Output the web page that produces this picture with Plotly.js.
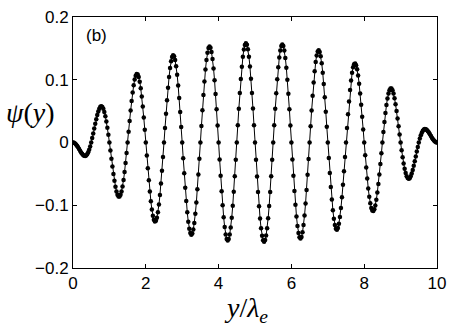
<!DOCTYPE html>
<html>
<head>
<meta charset="utf-8">
<script src="https://cdn.plot.ly/plotly-3.0.1.min.js"></script>
<style>
  html, body { margin: 0; padding: 0; background: #fff; }
  #grafico { width: 450px; height: 329px; }
</style>
</head>
<body>
<div id="grafico"></div>
<script>
// amostras de psi(y), passo uniforme em y/lambda_e (36 pontos por periodo)
const yStart = 0;
const yStep = 1 / 36;
const psi = [
  0, -0.0003, -0.0014, -0.003, -0.0051, -0.0077, -0.0104, -0.0132, -0.0158, -0.018, -0.0199, -0.0211, -0.0214, -0.0206, -0.0187, -0.0157, -0.0115, -0.0062,
  0, 0.007, 0.0144, 0.0222, 0.0299, 0.0371, 0.0437, 0.0494, 0.0539, 0.057, 0.0578, 0.0567, 0.0537, 0.0488, 0.042, 0.0335, 0.0235, 0.0122,
  0, -0.0128, -0.0257, -0.0383, -0.0503, -0.0611, -0.0704, -0.0779, -0.0832, -0.086, -0.086, -0.0834, -0.0779, -0.07, -0.0596, -0.047, -0.0326, -0.0168,
  0, 0.0173, 0.0343, 0.0508, 0.0662, 0.0797, 0.0912, 0.1002, 0.1062, 0.109, 0.1084, 0.1043, 0.097, 0.0866, 0.0733, 0.0575, 0.0397, 0.0204,
  0, -0.0207, -0.041, -0.0603, -0.0782, -0.0938, -0.1068, -0.1168, -0.1232, -0.126, -0.1249, -0.1199, -0.1111, -0.0989, -0.0835, -0.0653, -0.0449, -0.023,
  0, 0.0233, 0.0459, 0.0675, 0.0873, 0.1044, 0.1186, 0.1294, 0.1362, 0.139, 0.1373, 0.1315, 0.1215, 0.1079, 0.0908, 0.0708, 0.0486, 0.0248,
  0, -0.025, -0.0492, -0.0722, -0.0931, -0.1112, -0.1262, -0.1373, -0.1444, -0.147, -0.1451, -0.1388, -0.1282, -0.1136, -0.0956, -0.0745, -0.0511, -0.026,
  0, 0.0262, 0.0515, 0.0755, 0.0973, 0.1162, 0.1316, 0.1432, 0.1504, 0.153, 0.1509, 0.1442, 0.1331, 0.1179, 0.0991, 0.0772, 0.0529, 0.0269,
  0, -0.027, -0.0531, -0.0777, -0.0999, -0.1192, -0.1348, -0.1465, -0.1536, -0.156, -0.1538, -0.1468, -0.1354, -0.1198, -0.1007, -0.0783, -0.0536, -0.0273,
  0, 0.0273, 0.0538, 0.0787, 0.1012, 0.1207, 0.1366, 0.1483, 0.1555, 0.158, 0.1556, 0.1485, 0.1368, 0.121, 0.1016, 0.079, 0.054, 0.0275,
  0, -0.0275, -0.054, -0.079, -0.1016, -0.121, -0.1368, -0.1485, -0.1556, -0.158, -0.1555, -0.1483, -0.1366, -0.1207, -0.1012, -0.0787, -0.0538, -0.0273,
  0, 0.0273, 0.0536, 0.0783, 0.1007, 0.1198, 0.1354, 0.1468, 0.1538, 0.156, 0.1536, 0.1465, 0.1348, 0.1192, 0.0999, 0.0777, 0.0531, 0.027,
  0, -0.0269, -0.0529, -0.0772, -0.0991, -0.1179, -0.1331, -0.1442, -0.1509, -0.153, -0.1504, -0.1432, -0.1316, -0.1162, -0.0973, -0.0755, -0.0515, -0.0262,
  0, 0.026, 0.0511, 0.0745, 0.0956, 0.1136, 0.1282, 0.1388, 0.1451, 0.147, 0.1444, 0.1373, 0.1262, 0.1112, 0.0931, 0.0722, 0.0492, 0.025,
  0, -0.0248, -0.0486, -0.0708, -0.0908, -0.1079, -0.1215, -0.1315, -0.1373, -0.139, -0.1362, -0.1294, -0.1186, -0.1044, -0.0873, -0.0675, -0.0459, -0.0233,
  0, 0.023, 0.0449, 0.0653, 0.0835, 0.0989, 0.1111, 0.1199, 0.1249, 0.126, 0.1232, 0.1168, 0.1068, 0.0938, 0.0782, 0.0603, 0.041, 0.0207,
  0, -0.0204, -0.0397, -0.0575, -0.0733, -0.0866, -0.097, -0.1043, -0.1084, -0.109, -0.1062, -0.1002, -0.0912, -0.0797, -0.0662, -0.0508, -0.0343, -0.0173,
  0, 0.0168, 0.0326, 0.047, 0.0596, 0.07, 0.0779, 0.0834, 0.086, 0.086, 0.0832, 0.0779, 0.0704, 0.0611, 0.0503, 0.0383, 0.0257, 0.0128,
  0, -0.0122, -0.0235, -0.0335, -0.042, -0.0488, -0.0537, -0.0567, -0.0578, -0.057, -0.0539, -0.0494, -0.0437, -0.0371, -0.0299, -0.0222, -0.0144, -0.007,
  0, 0.0062, 0.0115, 0.0157, 0.0187, 0.0206, 0.0214, 0.0211, 0.0199, 0.018, 0.0158, 0.0132, 0.0104, 0.0077, 0.0051, 0.003, 0.0014, 0.0003,
  0
];
const xTicks = [0, 2, 4, 6, 8, 10];
const yTicks = [-0.2, -0.1, 0, 0.1, 0.2];

const data = [
    {
        x0: yStart,
        dx: yStep,
        y: psi,
        type: 'scatter',
        mode: 'lines+markers',
        line: { color: '#000', width: 1 },
        marker: { color: '#000', size: 4.5 },
        hoverinfo: 'skip'
    }
];

const sans = { family: 'Liberation Sans, Arial, sans-serif', size: 17, color: '#000' };
const serif = { family: 'Liberation Serif, Times New Roman, serif', size: 28, color: '#000' };

const layout = {
    width: 450,
    height: 329,
    margin: { l: 73, r: 13, t: 17, b: 61 },
    showlegend: false,
    plot_bgcolor: '#fff',
    paper_bgcolor: '#fff',
    xaxis: {
        range: [0, 10],
        tickvals: xTicks,
        ticks: 'inside',
        ticklen: 4,
        tickcolor: '#000',
        showline: true,
        linecolor: '#000',
        linewidth: 1,
        mirror: 'ticks',
        showgrid: false,
        zeroline: false,
        tickfont: sans
    },
    yaxis: {
        range: [-0.2, 0.2],
        tickvals: yTicks,
        ticks: 'inside',
        ticklen: 4,
        tickcolor: '#000',
        showline: true,
        linecolor: '#000',
        linewidth: 1,
        mirror: 'ticks',
        showgrid: false,
        zeroline: false,
        tickfont: sans
    },
    annotations: [
        {
            // titulo do eixo y, na horizontal como no original
            text: '<i>ψ</i>(<i>y</i>)',
            xref: 'paper', yref: 'paper',
            x: -0.118, y: 0.618,
            xanchor: 'center', yanchor: 'middle',
            showarrow: false,
            font: serif
        },
        {
            text: '<i>y</i>/<i>λ</i><sub><i>e</i></sub>',
            xref: 'paper', yref: 'paper',
            x: 0.475, y: -0.165,
            xanchor: 'center', yanchor: 'middle',
            showarrow: false,
            font: serif
        },
        {
            text: '(b)',
            xref: 'paper', yref: 'paper',
            x: 0.065, y: 0.928,
            xanchor: 'center', yanchor: 'middle',
            showarrow: false,
            font: sans
        }
    ]
};

Plotly.newPlot('grafico', data, layout, { staticPlot: true });
</script>
</body>
</html>
